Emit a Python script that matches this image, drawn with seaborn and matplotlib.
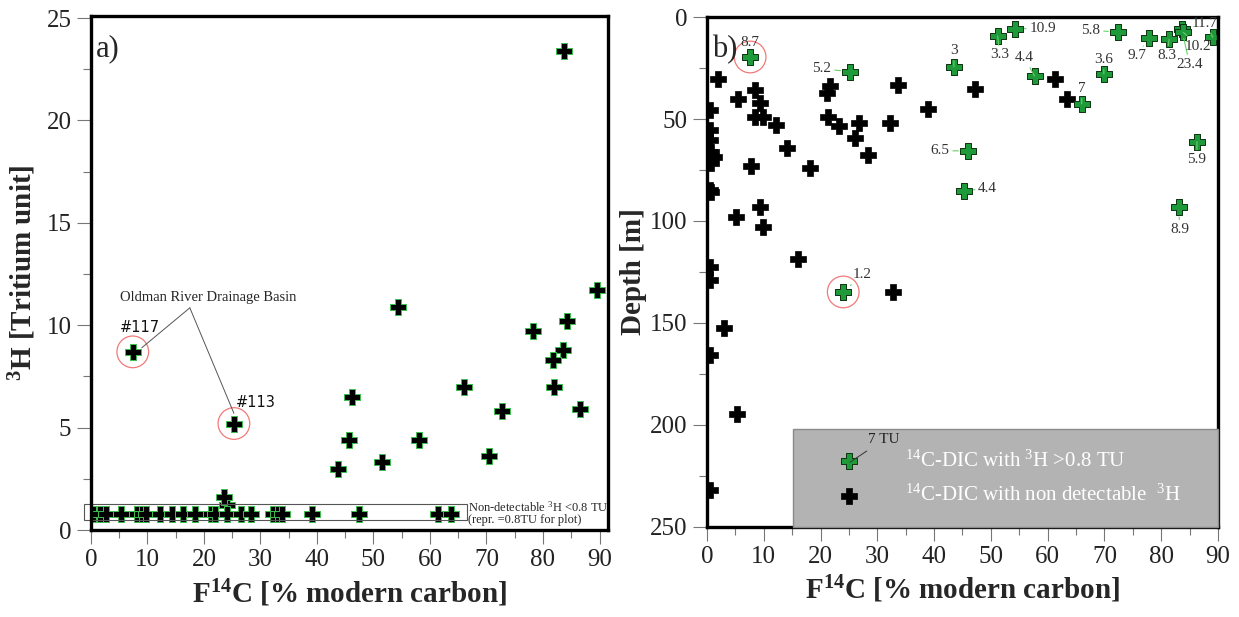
import matplotlib
matplotlib.use("Agg")
import matplotlib.pyplot as plt
from matplotlib.patches import Rectangle
from matplotlib.ticker import MultipleLocator
import pandas as pd
import seaborn as sns

# ---- panel a) F14C vs 3H ----
a_det_f14c = [83.8, 89.5, 54.3, 84.2, 78.3, 83.5, 7.4, 81.7, 81.9, 66.1, 86.6,
              72.7, 46.2, 25.3, 45.6, 58.0, 43.7, 51.5, 70.4, 24.1, 23.6]
a_det_h3 = [23.4, 11.7, 10.9, 10.2, 9.7, 8.8, 8.7, 8.3, 7.0, 7.0, 5.9,
            5.8, 6.5, 5.2, 4.4, 4.4, 3.0, 3.3, 3.6, 1.2, 1.6]
a_nd_f14c = [0.4, 1.6, 2.7, 5.4, 8.1, 9.0, 9.8, 12.2, 14.3, 16.3, 18.4, 21.3,
             21.9, 24.0, 26.6, 28.4, 32.2, 33.1, 33.8, 39.1, 47.4, 61.4, 63.8]
a_nd_h3 = [0.8] * len(a_nd_f14c)
a_circled_f14c = [7.4, 25.3]
a_circled_h3 = [8.7, 5.2]
a_circled_ids = ["#117", "#113"]

# ---- panel b) F14C vs depth ----
b_det_f14c = [7.6, 25.2, 43.5, 51.2, 54.2, 72.4, 57.7, 69.9, 66.0, 77.8,
              81.4, 83.6, 83.9, 89.1, 46.0, 45.2, 86.3, 83.1, 24.0]
b_det_depth = [19.6, 26.8, 24.5, 9.3, 5.9, 7.4, 28.9, 27.9, 42.6, 10.2,
               10.9, 5.9, 7.5, 9.9, 65.6, 85.3, 61.1, 93.3, 134.8]
b_det_tu = ["8.7", "5.2", "3", "3.3", "10.9", "5.8", "4.4", "3.6", "7", "9.7",
            "8.3", "23.4", "10.2", "11.7", "6.5", "4.4", "5.9", "8.9", "1.2"]
b_nd_f14c = [0.5, 0.5, 0.5, 0.7, 1.2, 0.7, 0.5, 0.7, 1.9, 5.5, 8.5, 9.3, 8.5,
             9.9, 12.1, 14.1, 7.7, 18.1, 21.7, 21.1, 21.3, 23.2, 26.8, 26.1,
             28.4, 33.6, 32.2, 38.9, 47.2, 61.3, 63.4, 9.3, 5.1, 9.9, 16.0,
             32.8, 3.0, 0.5, 0.5, 0.5, 5.3, 0.5]
b_nd_depth = [45.6, 55.4, 60.3, 66.0, 68.6, 71.6, 84.8, 85.6, 30.5, 40.2, 35.8,
              42.3, 49.1, 49.0, 53.0, 64.1, 73.0, 74.2, 33.8, 37.4, 49.1, 53.4,
              52.0, 59.4, 67.6, 33.3, 52.0, 45.2, 35.3, 30.5, 40.3, 93.1, 98.0,
              102.9, 118.6, 134.8, 152.5, 122.6, 128.9, 165.7, 194.6, 231.9]
b_circled_f14c = [7.6, 24.0]
b_circled_depth = [19.6, 134.8]

# label offsets (pixels) for the TU labels in panel b
b_label_dx = [0, -28, 0, 2, 28, -27, -10, 0, 0, -12, -2, 8, 15, -8, -28, 24, 0, 1, 19]
b_label_dy = [15, 3, 16, -19, 1, 2, 18, 14, 15, -18, -16, -35, -14, 14, 0, 3, -18, -22, 17]

sns.set_style("ticks")
plt.rcParams["font.family"] = ["Liberation Serif", "DejaVu Serif"]
plt.rcParams["mathtext.fontset"] = "custom"
plt.rcParams["mathtext.rm"] = "Liberation Serif"
plt.rcParams["mathtext.bf"] = "Liberation Serif:bold"
plt.rcParams["mathtext.default"] = "rm"

fig = plt.figure(figsize=(12.39, 6.17), dpi=100)
ax1 = fig.add_axes([0.0734, 0.141, 0.4173, 0.833])
ax2 = fig.add_axes([0.5706, 0.146, 0.4124, 0.8264])

GREEN_EDGE = "#3fbf4f"
GREEN_FILL = "#1f9a3a"
CIRCLE = "#f07a78"
msize = 118

# ---- panel a ----
df_a = pd.DataFrame({"f14c": a_det_f14c + a_nd_f14c, "h3": a_det_h3 + a_nd_h3})
sns.scatterplot(data=df_a, x="f14c", y="h3", ax=ax1, marker="P", s=msize,
                color="black", edgecolor=GREEN_EDGE, linewidth=0.7, legend=False)
ax1.scatter(a_circled_f14c, a_circled_h3, s=520, facecolor="none",
            edgecolor=CIRCLE, linewidth=0.9)
for x, y, t in zip(a_circled_f14c, a_circled_h3, a_circled_ids):
    ax1.text(x - 2.3 if t == "#117" else x + 0.3, y + 0.95 if t == "#117" else y + 0.8,
             t, family="DejaVu Sans", fontsize=10.5, color="#111")

# Oldman River leader lines
ax1.text(5.1, 11.35, "Oldman River Drainage Basin", fontsize=10.5, va="center")
ax1.plot([17.5, 9.0], [10.85, 8.9], color="#555", lw=0.7)
ax1.plot([17.5, 25.3], [10.85, 5.7], color="#555", lw=0.7)

ax1.add_patch(Rectangle((-1.2, 0.49), 67.7, 0.78, fill=False, edgecolor="#555",
                        lw=0.8, clip_on=False))
ax1.text(66.8, 1.12, r"Non-detectable $^{3}$H <0.8 TU", fontsize=9, va="center")
ax1.text(66.8, 0.5, "(repr. =0.8TU for plot)", fontsize=9, va="center")

ax1.set_xlim(0, 91.5)
ax1.set_ylim(0, 25.1)
ax1.xaxis.set_major_locator(MultipleLocator(10))
ax1.xaxis.set_minor_locator(MultipleLocator(5))
ax1.yaxis.set_major_locator(MultipleLocator(5))
ax1.yaxis.set_minor_locator(MultipleLocator(2.5))
ax1.set_xlabel(r"F$^{\mathbf{14}}$C [% modern carbon]", fontsize=21, fontweight="bold", labelpad=4)
ax1.set_ylabel(r"$^{\mathbf{3}}$H [Tritium unit]", fontsize=21, fontweight="bold", labelpad=6)
ax1.text(0.01, 0.965, "a)", transform=ax1.transAxes, fontsize=22, va="top")

# ---- panel b ----
df_b_nd = pd.DataFrame({"f14c": b_nd_f14c, "depth": b_nd_depth})
df_b_det = pd.DataFrame({"f14c": b_det_f14c, "depth": b_det_depth})
sns.scatterplot(data=df_b_nd, x="f14c", y="depth", ax=ax2, marker="P", s=msize,
                color="black", edgecolor="black", linewidth=0.5,
                label=r"$^{14}$C-DIC with non detectable  $^{3}$H")
sns.scatterplot(data=df_b_det, x="f14c", y="depth", ax=ax2, marker="P", s=msize,
                color=GREEN_FILL, edgecolor="#0b3310", linewidth=0.7,
                label=r"$^{14}$C-DIC with $^{3}$H >0.8 TU")
ax2.scatter(b_circled_f14c, b_circled_depth, s=520, facecolor="none",
            edgecolor=CIRCLE, linewidth=0.9)

for x, y, t, dx, dy in zip(b_det_f14c, b_det_depth, b_det_tu, b_label_dx, b_label_dy):
    props = None if t == "8.7" else dict(arrowstyle="-", color="#66d066", lw=0.8,
                                          shrinkA=0, shrinkB=7)
    ax2.annotate(t, (x, y), xytext=(dx, dy), textcoords="offset pixels",
                 ha="center", va="center", fontsize=11, color="#333",
                 arrowprops=props)

ax2.set_xlim(0, 90)
ax2.set_ylim(250, 0)
ax2.xaxis.set_major_locator(MultipleLocator(10))
ax2.xaxis.set_minor_locator(MultipleLocator(5))
ax2.yaxis.set_major_locator(MultipleLocator(50))
ax2.yaxis.set_minor_locator(MultipleLocator(25))
ax2.set_xlabel(r"F$^{\mathbf{14}}$C [% modern carbon]", fontsize=21, fontweight="bold", labelpad=4)
ax2.set_ylabel("Depth [m]", fontsize=21, fontweight="bold", labelpad=2)
ax2.text(0.01, 0.965, "b)", transform=ax2.transAxes, fontsize=22, va="top")

handles, labels = ax2.get_legend_handles_labels()
leg = ax2.legend(handles[::-1], labels[::-1], loc="lower left",
                 bbox_to_anchor=(0.168, 0.0, 0.832, 0.19), mode="expand",
                 borderaxespad=0, fontsize=15, labelcolor="white",
                 facecolor="#b3b3b3", edgecolor="#8a8a8a", framealpha=1,
                 fancybox=False, borderpad=1.0, handlelength=3.4,
                 handletextpad=1.0, labelspacing=0.65)
leg.get_frame().set_linewidth(1.0)
leg.set_zorder(4)
tu_note = ax2.annotate("7 TU", (0.28, 0.127), xycoords="axes fraction",
                       xytext=(0.315, 0.171), textcoords="axes fraction",
                       fontsize=11, color="#222", ha="left", va="center",
                       arrowprops=dict(arrowstyle="-", color="#333", lw=0.7,
                                       shrinkA=2, shrinkB=0))
tu_note.set_zorder(10)

for ax in (ax1, ax2):
    for sp in ax.spines.values():
        sp.set_linewidth(2.4)
        sp.set_color("black")
    ax.tick_params(which="major", direction="out", length=10, width=0.8,
                   color="#777", labelsize=18, labelcolor="#222", pad=4)
    ax.tick_params(which="minor", direction="out", length=6, width=0.8, color="#777")

fig.savefig("out.png", dpi=100)
